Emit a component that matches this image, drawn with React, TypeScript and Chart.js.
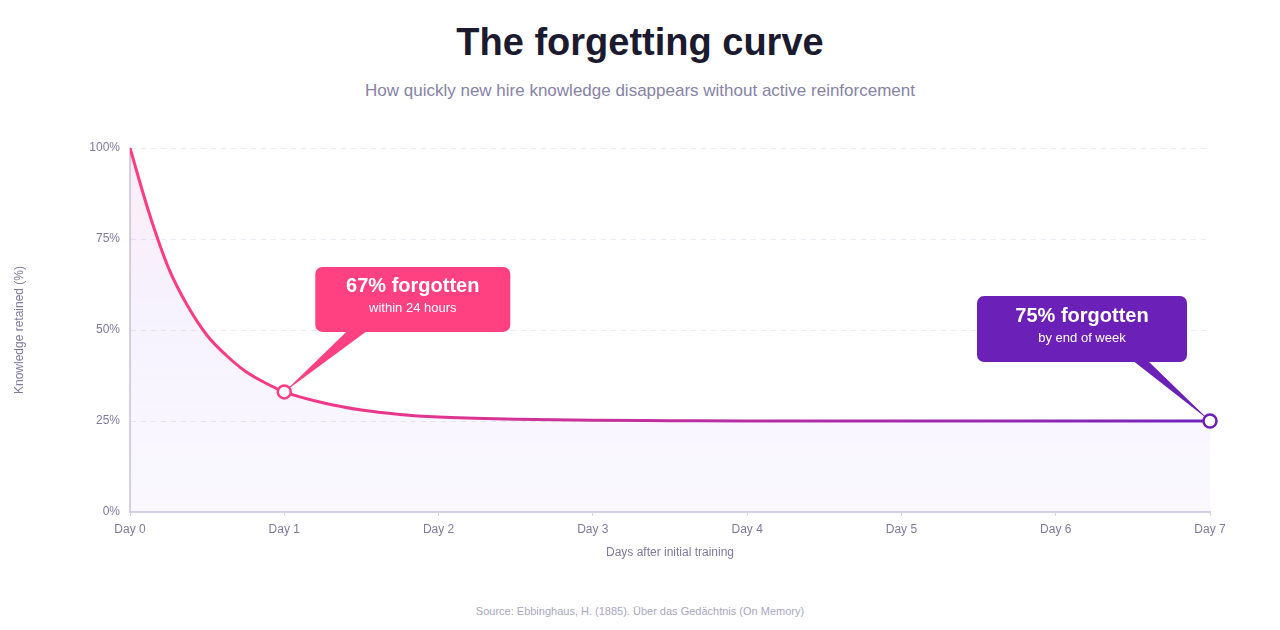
import { useEffect, useRef } from 'react';
import { Chart, registerables } from 'chart.js';

Chart.register(...registerables);

// days after training and % of knowledge retained
const days = [0, 0.125, 0.25, 0.375, 0.5, 0.625, 0.75, 0.875, 1, 1.25, 1.5, 1.75, 2, 2.5, 3, 3.5, 4, 5, 6, 7];
const retained = [100, 82, 67, 56.5, 48.5, 43, 38.6, 35.5, 33, 30, 28, 26.8, 26.1, 25.5, 25.2, 25.1, 25, 25, 25, 25];

const yTicks = [0, 25, 50, 75, 100];

const calloutDays = [1, 7];
const calloutTitles = ['67% forgotten', '75% forgotten'];
const calloutNotes = ['within 24 hours', 'by end of week'];

const FONT = '"Liberation Sans", Arial, Helvetica, sans-serif';
const PINK = '#ff4081';
const PURPLE = '#6b21b8';
const LABEL = '#7e7a9e';
const AXIS = '#d5d2e5';

// box placement relative to the marked point (pixels)
const calloutStyle = [
  { color: PINK, marker: '#ff3d7f', dx: 31, dy: -60, w: 195, h: 65, base: [33, 53] },
  { color: PURPLE, marker: PURPLE, dx: -233, dy: -59, w: 210, h: 66, base: [155, 170] },
];

const valueAt = (d: number) => retained[days.indexOf(d)];

const calloutPlugin = {
  id: 'callouts',
  afterDatasetDraw(chart: any, args: any) {
    if (args.index !== 0) return;
    const { ctx, scales } = chart;
    ctx.save();
    calloutDays.forEach((d, i) => {
      const s = calloutStyle[i];
      const px = scales.x.getPixelForValue(d);
      const py = scales.y.getPixelForValue(valueAt(d));
      const left = px + s.dx;
      const bottom = py + s.dy;
      const top = bottom - s.h;
      ctx.fillStyle = s.color;
      ctx.beginPath();
      ctx.moveTo(left + s.base[0], bottom - 2);
      ctx.lineTo(left + s.base[1], bottom - 2);
      ctx.lineTo(px, py);
      ctx.closePath();
      ctx.fill();
      ctx.beginPath();
      ctx.roundRect(left, top, s.w, s.h, 7);
      ctx.fill();
      ctx.fillStyle = '#ffffff';
      ctx.textAlign = 'center';
      ctx.textBaseline = 'alphabetic';
      ctx.font = `bold 20px ${FONT}`;
      ctx.fillText(calloutTitles[i], left + s.w / 2, top + 25.5);
      ctx.font = `13px ${FONT}`;
      ctx.fillText(calloutNotes[i], left + s.w / 2, top + 45.5);
    });
    ctx.restore();
  },
};

export default function App() {
  const canvasRef = useRef<HTMLCanvasElement>(null);
  const chartRef = useRef<Chart | null>(null);

  useEffect(() => {
    if (!canvasRef.current) return;
    if (chartRef.current) chartRef.current.destroy();

    chartRef.current = new Chart(canvasRef.current, {
      type: 'line',
      data: {
        datasets: [
          {
            data: days.map((d, i) => ({ x: d, y: retained[i] })),
            order: 1,
            borderWidth: 3,
            cubicInterpolationMode: 'monotone',
            pointRadius: 0,
            fill: 'origin',
            borderColor: (c: any) => {
              const area = c.chart.chartArea;
              if (!area) return PINK;
              const g = c.chart.ctx.createLinearGradient(area.left, 0, area.right, 0);
              g.addColorStop(0, '#ff3d7f');
              g.addColorStop(0.15, '#f53a86');
              g.addColorStop(0.43, '#c8309a');
              g.addColorStop(0.8, '#9a28b0');
              g.addColorStop(1, '#6d22bd');
              return g;
            },
            backgroundColor: (c: any) => {
              const area = c.chart.chartArea;
              if (!area) return 'rgba(139,92,246,0.06)';
              const g = c.chart.ctx.createLinearGradient(0, area.top, 0, area.bottom);
              g.addColorStop(0, 'rgba(236,72,153,0.10)');
              g.addColorStop(0.45, 'rgba(139,92,246,0.08)');
              g.addColorStop(1, 'rgba(139,92,246,0.04)');
              return g;
            },
          },
          {
            data: calloutDays.map((d) => ({ x: d, y: valueAt(d) })),
            order: 0,
            showLine: false,
            clip: false,
            pointRadius: 6.5,
            pointBorderWidth: 2.5,
            pointBackgroundColor: '#ffffff',
            pointBorderColor: calloutStyle.map((s) => s.marker),
          },
        ],
      },
      options: {
        animation: false,
        responsive: true,
        maintainAspectRatio: false,
        events: [],
        layout: { padding: { top: 28, right: 70, left: 0, bottom: 0 } },
        plugins: {
          legend: { display: false },
          tooltip: { enabled: false },
        },
        scales: {
          x: {
            type: 'linear',
            min: 0,
            max: 7,
            afterFit: (s: any) => { s.height = 52; },
            border: { color: AXIS, width: 2 },
            grid: { drawOnChartArea: false, drawTicks: true, tickLength: 4, color: AXIS },
            ticks: {
              stepSize: 1,
              padding: 6,
              color: LABEL,
              font: { family: FONT, size: 12 },
              callback: (v: any) => `Day ${v}`,
            },
            title: {
              display: true,
              text: 'Days after initial training',
              color: LABEL,
              font: { family: FONT, size: 12 },
              padding: { top: 4, bottom: 4 },
            },
          },
          y: {
            min: 0,
            max: 100,
            afterFit: (s: any) => { s.width = 130; },
            afterBuildTicks: (s: any) => { s.ticks = yTicks.map((v) => ({ value: v })); },
            border: { color: AXIS, width: 2, dash: [5, 5] },
            grid: { color: '#ecebf4', drawTicks: false },
            ticks: {
              padding: 10,
              color: LABEL,
              font: { family: FONT, size: 12 },
              callback: (v: any) => `${v}%`,
            },
            title: {
              display: true,
              text: 'Knowledge retained (%)',
              color: LABEL,
              font: { family: FONT, size: 12 },
              padding: { top: 12, bottom: 0 },
            },
          },
        },
      },
      plugins: [calloutPlugin],
    } as any);

    return () => { if (chartRef.current) chartRef.current.destroy(); };
  }, []);

  return (
    <div style={{ position: 'fixed', left: 0, top: 0, width: 1280, height: 630, background: '#ffffff', fontFamily: FONT }}>
      <div style={{ position: 'absolute', left: 0, top: 23, width: 1280, textAlign: 'center', fontSize: 38, lineHeight: '38px', fontWeight: 700, color: '#1b1a2e' }}>
        The forgetting curve
      </div>
      <div style={{ position: 'absolute', left: 0, top: 82, width: 1280, textAlign: 'center', fontSize: 17, lineHeight: '17px', color: '#8783a6' }}>
        How quickly new hire knowledge disappears without active reinforcement
      </div>
      <div style={{ position: 'absolute', left: 0, top: 120, width: 1280, height: 444 }}>
        <canvas ref={canvasRef} />
      </div>
      <div style={{ position: 'absolute', left: 0, top: 606, width: 1280, textAlign: 'center', fontSize: 11, lineHeight: '11px', color: '#a9a6bf' }}>
        Source: Ebbinghaus, H. (1885). Über das Gedächtnis (On Memory)
      </div>
    </div>
  );
}
